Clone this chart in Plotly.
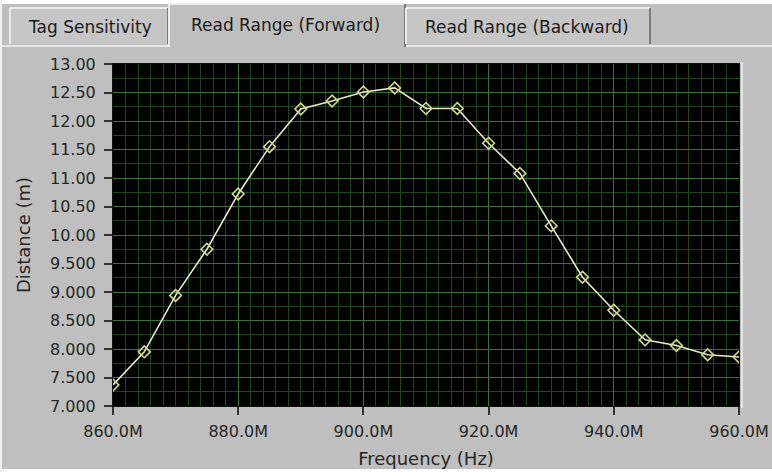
import plotly.graph_objects as go

# ---- data ----
freq_hz = [860e6, 865e6, 870e6, 875e6, 880e6, 885e6, 890e6, 895e6, 900e6, 905e6,
           910e6, 915e6, 920e6, 925e6, 930e6, 935e6, 940e6, 945e6, 950e6, 955e6, 960e6]
distance_m = [7.37, 7.95, 8.94, 9.75, 10.72, 11.55, 12.21, 12.35, 12.51, 12.58,
              12.22, 12.22, 11.61, 11.08, 10.16, 9.26, 8.68, 8.16, 8.06, 7.90, 7.86]

x_tick_vals = [860e6, 880e6, 900e6, 920e6, 940e6, 960e6]
x_tick_text = ["860.0M", "880.0M", "900.0M", "920.0M", "940.0M", "960.0M"]
y_tick_vals = [13.0, 12.5, 12.0, 11.5, 11.0, 10.5, 10.0, 9.5, 9.0, 8.5, 8.0, 7.5, 7.0]
y_tick_text = ["13.00", "12.50", "12.00", "11.50", "11.00", "10.50", "10.00",
               "9.500", "9.000", "8.500", "8.000", "7.500", "7.000"]
tab_labels = ["Tag Sensitivity", "Read Range (Forward)", "Read Range (Backward)"]

# ---- layout geometry (pixels) ----
W, H = 772, 472
L, R, T, B = 113, 739, 64, 406
BG = "#bfbfbf"
FONT = "DejaVu Sans"


def px(x):
    return (x - L) / (R - L)


def py(y):
    return (B - y) / (B - T)


fig = go.Figure()
fig.add_trace(go.Scatter(
    x=freq_hz, y=distance_m, mode="lines+markers",
    line=dict(color="#e8e8c8", width=1.6),
    marker=dict(symbol="diamond-open", size=9, color="#d6d68a", line=dict(width=1.6)),
    showlegend=False, hoverinfo="x+y",
))

shapes = []


def rect(x0, y0, x1, y1, fill, line=None, lw=0, layer="above"):
    shapes.append(dict(type="rect", xref="paper", yref="paper",
                       x0=px(x0), x1=px(x1), y0=py(y0), y1=py(y1),
                       fillcolor=fill, line=dict(width=lw, color=line or fill),
                       layer=layer))


def seg(x0, y0, x1, y1, color, w=1):
    shapes.append(dict(type="line", xref="paper", yref="paper",
                       x0=px(x0), x1=px(x1), y0=py(y0), y1=py(y1),
                       line=dict(color=color, width=w), layer="above"))


# white strip at top and bottom
rect(0, 0, W, 4, "#ffffff")
rect(0, 469, W, H, "#ffffff")
rect(0, 0, 2, H, "#f0f0f0")

# panel top edge
seg(0, 46, 170, 46, "#e8e8e8", 2)
seg(405, 46, W, 46, "#e8e8e8", 2)
# right frame highlight beside plot
seg(742, 62, 742, 408, "#e4e4e4", 2)

# tabs
tabs = [(10, 8, 168, 44), (169, 4, 405, 47), (406, 8, 650, 44)]
for i, (x0, y0, x1, y1) in enumerate(tabs):
    rect(x0, y0, x1, y1, "#c6c6c6" if i != 1 else BG)
    seg(x0, y0, x1, y0, "#ececec", 2)
    seg(x0, y0, x0, y1, "#ececec", 2)
    seg(x1, y0, x1, y1, "#7a7a7a", 2)

annotations = []
tab_centers = [(90, 27), (285, 25), (527, 27)]
for (cx, cy), txt in zip(tab_centers, tab_labels):
    annotations.append(dict(xref="paper", yref="paper", x=px(cx), y=py(cy),
                            text=txt, showarrow=False, xanchor="center", yanchor="middle",
                            font=dict(family=FONT, size=17, color="#1a1a1a")))

fig.update_layout(
    width=W, height=H,
    margin=dict(l=L, r=W - R, t=T, b=H - B, pad=0),
    paper_bgcolor=BG, plot_bgcolor="#000000",
    font=dict(family=FONT, size=16, color="#262626"),
    shapes=shapes, annotations=annotations,
    xaxis=dict(
        range=[860e6, 960e6], tickvals=x_tick_vals, ticktext=x_tick_text,
        automargin=False,
        showgrid=True, gridcolor="#3a723a", gridwidth=1,
        minor=dict(dtick=2e6, showgrid=True, gridcolor="#1f451f", gridwidth=1),
        ticks="outside", ticklen=8, tickcolor="#333333", tickwidth=2,
        ticklabelstandoff=3,
        showline=True, linecolor="#111111", linewidth=1, mirror=True,
        zeroline=False, tickfont=dict(size=16),
        title=dict(text="Frequency (Hz)", font=dict(size=18), standoff=12),
    ),
    yaxis=dict(
        range=[7.0, 13.0], tickvals=y_tick_vals, ticktext=y_tick_text,
        automargin=False,
        showgrid=True, gridcolor="#3a723a", gridwidth=1,
        minor=dict(dtick=0.25, showgrid=True, gridcolor="#1f451f", gridwidth=1),
        ticks="outside", ticklen=8, tickcolor="#333333", tickwidth=2,
        ticklabelstandoff=5,
        showline=True, linecolor="#111111", linewidth=1, mirror=True,
        zeroline=False, tickfont=dict(size=16),
        title=dict(text="Distance (m)", font=dict(size=18), standoff=14),
    ),
)

fig.write_html(
    "out.html",
    config={"displayModeBar": False},
    post_script="document.body.style.margin='0px';document.body.style.overflow='hidden';",
)
